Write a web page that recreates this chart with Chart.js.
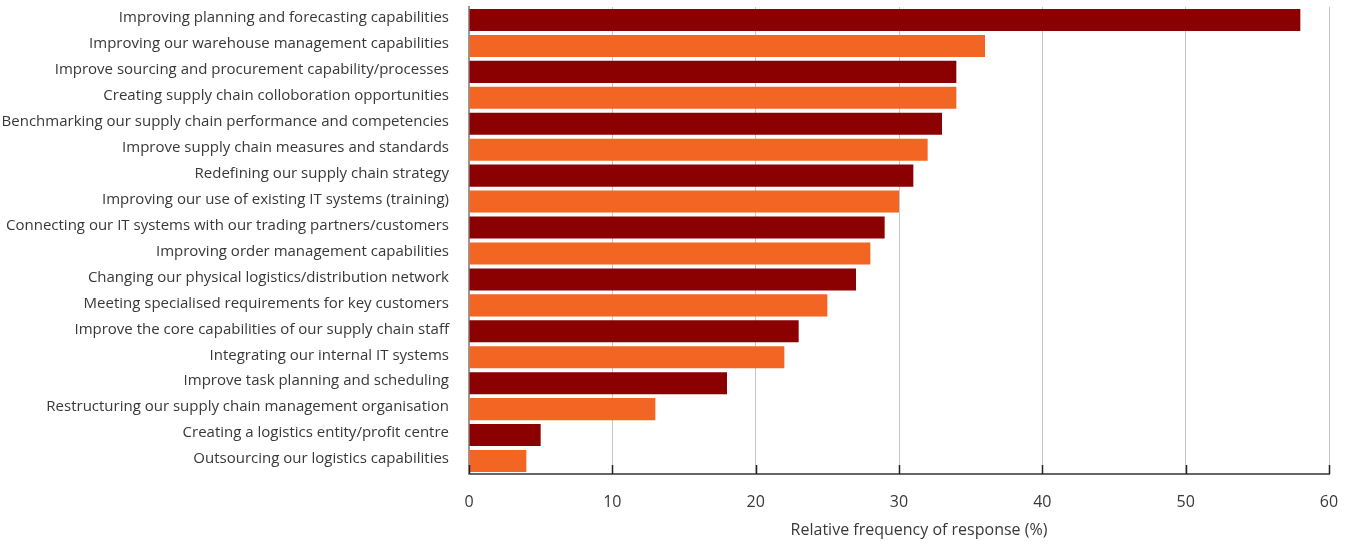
<!DOCTYPE html>
<html>
<head>
<meta charset="utf-8">
<script src="https://cdn.jsdelivr.net/npm/chart.js@4"></script>
<style>
  html, body { margin: 0; padding: 0; background: #fff; }
  #wrap { width: 1352px; height: 544px; }
</style>
</head>
<body>
<div id="wrap"><canvas id="ctx" width="1352" height="544"></canvas></div>
<script>
const priorities = [
  'Improving planning and forecasting capabilities',
  'Improving our warehouse management capabilities',
  'Improve sourcing and procurement capability/processes',
  'Creating supply chain colloboration opportunities',
  'Benchmarking our supply chain performance and competencies',
  'Improve supply chain measures and standards',
  'Redefining our supply chain strategy',
  'Improving our use of existing IT systems (training)',
  'Connecting our IT systems with our trading partners/customers',
  'Improving order management capabilities',
  'Changing our physical logistics/distribution network',
  'Meeting specialised requirements for key customers',
  'Improve the core capabilities of our supply chain staff',
  'Integrating our internal IT systems',
  'Improve task planning and scheduling',
  'Restructuring our supply chain management organisation',
  'Creating a logistics entity/profit centre',
  'Outsourcing our logistics capabilities'
]
const frequency = [58, 36, 34, 34, 33, 32, 31, 30, 29, 28, 27, 25, 23, 22, 18, 13, 5, 4]
const xTicks = [0, 10, 20, 30, 40, 50, 60]
const xTitle = 'Relative frequency of response (%)'

const darkRed = '#8b0000'
const orange = '#f26522'
const textColor = '#383838'
const fontFamily = '"Open Sans", "Noto Sans", sans-serif'

Chart.defaults.font.family = fontFamily
Chart.defaults.color = textColor

// short dark tick marks on top of the x axis line, plus the axis title
// (title sits a little right of the plot centre)
const axisExtras = {
  id: 'axisExtras',
  afterDraw: (chart) => {
    const {ctx} = chart
    const x = chart.scales.x
    const {left, right, bottom} = chart.chartArea
    ctx.save()
    ctx.strokeStyle = '#222'
    ctx.lineWidth = 1.5
    xTicks.forEach(v => {
      const px = Math.round(x.getPixelForValue(v)) + 0.5
      ctx.beginPath()
      ctx.moveTo(px, bottom - 9)
      ctx.lineTo(px, bottom)
      ctx.stroke()
    })
    ctx.fillStyle = textColor
    ctx.font = '16px ' + fontFamily
    ctx.textAlign = 'center'
    ctx.textBaseline = 'middle'
    ctx.fillText(xTitle, (left + right) / 2 + 20, bottom + 56)
    ctx.restore()
  }
}

const chart = new Chart(document.getElementById('ctx'), {
  type: 'bar',
  data: {
    labels: priorities,
    datasets: [{
      data: frequency,
      backgroundColor: frequency.map((_, i) => i % 2 === 0 ? darkRed : orange),
      borderWidth: 0,
      barPercentage: 0.85,
      categoryPercentage: 1
    }]
  },
  options: {
    indexAxis: 'y',
    responsive: false,
    animation: false,
    layout: { padding: { top: 7, right: 23, left: 0, bottom: 0 } },
    plugins: {
      legend: { display: false },
      tooltip: { enabled: false }
    },
    scales: {
      x: {
        min: 0,
        max: 60,
        z: 1,
        afterBuildTicks: (scale) => { scale.ticks = xTicks.map(v => ({value: v})) },
        afterFit: (scale) => { scale.height = 70 },
        grid: { color: '#c6c6c6', lineWidth: 1, drawTicks: true, tickLength: 17, tickColor: 'rgba(0,0,0,0)' },
        border: { color: '#666', width: 2 },
        ticks: { padding: 2, font: { size: 16 }, color: textColor }
      },
      y: {
        afterFit: (scale) => {
          scale.width = 469
          scale.paddingTop = 0
          scale.paddingBottom = 0
        },
        grid: { display: false, drawTicks: true, tickLength: 17 },
        border: { color: '#999', width: 2 },
        ticks: { padding: 3, labelOffset: -2, font: { size: 15 }, color: textColor, autoSkip: false }
      }
    }
  },
  plugins: [axisExtras]
})
</script>
</body>
</html>
